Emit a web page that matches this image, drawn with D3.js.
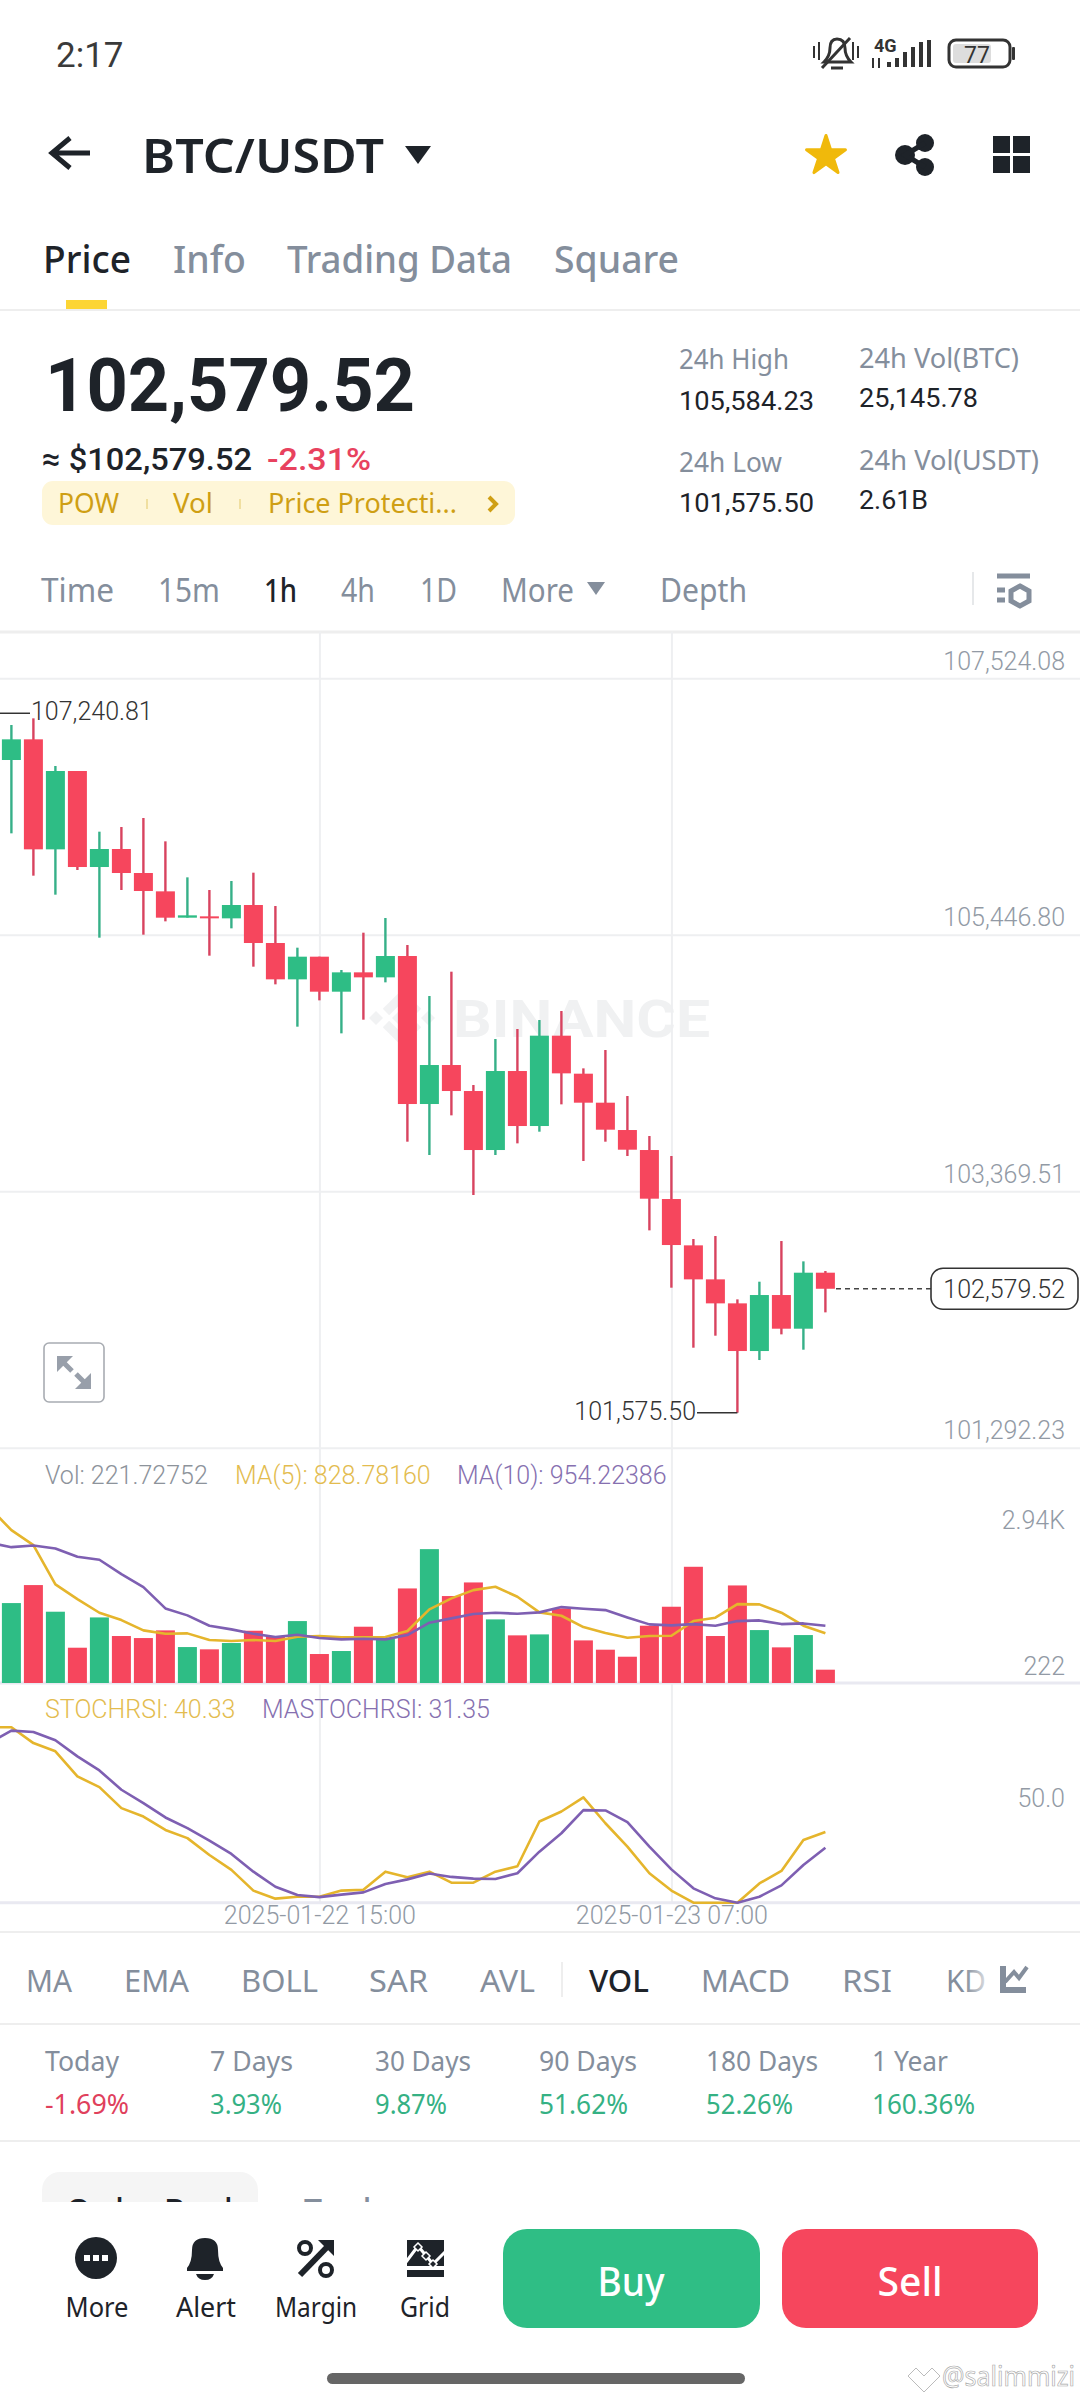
<!DOCTYPE html>
<html>
<head>
<meta charset="utf-8">
<title>BTC/USDT</title>
<script src="https://cdn.jsdelivr.net/npm/d3@7"></script>
<style>
  html, body { margin: 0; padding: 0; background: #fff; }
  svg { display: block; font-family: "Noto Sans", Roboto, sans-serif; }
  .tick text { font-family: Roboto, sans-serif; font-weight: 300; }
  .num { font-family: Roboto, sans-serif; }
</style>
</head>
<body>
<svg id="page" width="1080" height="2400"></svg>
<script>
// candles, oldest first
var opens = [106862.3,107029.7,106138.7,106773.2,105995.6,106141.4,105947,105798.5,105585.2,105596,105579.8,105687.8,105380,105085.7,105269.3,104985.8,105142.4,105101.9,105274.7,104075.9,104391.8,104181.2,103703.3,104343.2,103897.7,104629.4,104321.6,104086.7,103865.3,103703.3,103306.4,102931.1,102655.7,102461.3,102075.2,102528.8,102256.1,102709.7];
var highs = [107145.8,107199.8,106813.7,106773.2,106281.8,106319.6,106392.5,106203.5,105911.9,105809.3,105882.2,105949.7,105679.7,105342.2,105269.3,105161.3,105463.7,105582.5,105363.8,104950.7,105147.8,104229.8,104602.4,104683.4,104756.3,104829.2,104364.8,104513.3,104140.7,103816.7,103654.7,102982.4,103006.7,102493.7,102636.8,102966.2,102801.5,102723.2];
var lows = [106268.3,105925.4,105771.5,105971.3,105423.2,105809.3,105447.5,105555.5,105585.2,105277.4,105498.8,105188.3,105045.2,104702.3,104915.6,104648.3,104759,105061.4,103770.8,103662.8,103984.1,103338.8,103662.8,103757.3,103851.8,104073.2,103614.2,103770.8,103654.7,103052.6,102588.2,102102.2,102199.4,101575.5,102002.3,102210.2,102086,102388.4];
var closes = [107029.7,106138.7,106773.2,105995.6,106141.4,105947,105801.2,105585.2,105604.1,105579.8,105687.8,105380,105085.7,105269.3,104985.8,105142.4,105101.9,105274.7,104075.9,104391.8,104181.2,103703.3,104343.2,103897.7,104629.4,104324.3,104086.7,103868,103706,103309.1,102933.8,102655.7,102461.3,102075.2,102528.8,102256.1,102709.7,102579.52];
var volumes = [1332,1632,1188,588,1093,783,749,877,599,561,666,871,771,1032,483,533,938,744,1576,2231,1449,1676,1060,794,810,1243,710,555,438,955,1271,1937,783,1626,882,594,799,221.73];

// these start one candle before the left edge of the screen
var ma5 = [2925,2547,2298,1643,1399,1171,1049,877,821,827,716,699,716,699,771,783,760,760,766,866,1227,1410,1548,1604,1437,1177,1121,932,833,755,783,788,1032,1088,1315,1310,1171,955,828.78];
var ma10 = [2337,2264,2292,2242,2103,2054,1815,1598,1243,1127,955,894,821,766,805,749,727,738,727,799,1005,1077,1149,1171,1154,1177,1265,1238,1215,1093,977,960,982,955,1032,1043,982,993,954.22];
var stochRsi = [100,100,91,86.3,72,65.9,53.9,49.1,41.5,36.8,27.2,18.7,6.9,2.3,3.4,3.4,6.9,7.4,17.7,14.5,17.7,11.4,11.4,17.7,20.8,46.3,52,60,45.3,32,16.8,6.9,0,0,0,11,18.1,35.8,40.33];
var maStochRsi = [91,98.1,97.3,92.6,83.4,75.4,64.4,56.8,48.6,42.5,35.4,27.8,17.7,9.1,4.4,3.2,4.6,5.9,10.7,13.3,16.6,14.7,13.7,13.5,16.8,29.1,39.6,52.8,52.6,45.9,32,19,8.2,2.5,0,3.4,9.9,21.5,31.35];

var priceTicks = [107524.08,105446.80,103369.51,101292.23];
var dateTicks = [14,30];
var dateLabels = ['2025-01-22 15:00','2025-01-23 07:00'];
var lastPrice = 102579.52;
var maxPrice = 107240.81;
var minPrice = 101575.50;

var tabs = ['Price','Info','Trading Data','Square'];
var intervals = ['Time','15m','1h','4h','1D','More','Depth'];
var indicators = ['MA','EMA','BOLL','SAR','AVL','VOL','MACD','RSI','KD'];
var periods = ['Today','7 Days','30 Days','90 Days','180 Days','1 Year'];
var periodChanges = ['-1.69%','3.93%','9.87%','51.62%','52.26%','160.36%'];
var tools = ['More','Alert','Margin','Grid'];

var GREEN = '#2EBD85', RED = '#F6465D', DARK = '#1E2329', GRAY = '#848E9C', YELLOW = '#E5B52C', PURPLE = '#7E5FB2', GRID = '#EEEFF1';
var CHART_TEXT = 25;

var svg = d3.select('#page');

function label(x, y, str, size, color, opts) {
  opts = opts || {};
  var t = svg.append('text')
    .attr('x', x).attr('y', y)
    .attr('font-size', size)
    .attr('fill', color)
    .attr('font-weight', opts.weight || 400)
    .attr('text-anchor', opts.anchor || 'start')
    .text(str);
  if (opts.cls) t.attr('class', opts.cls);
  if (opts.len) t.attr('textLength', opts.len).attr('lengthAdjust', 'spacingAndGlyphs');
  return t;
}

function hr(y, color, w) {
  svg.append('line').attr('x1', 0).attr('x2', 1080).attr('y1', y).attr('y2', y)
    .attr('stroke', color || GRID).attr('stroke-width', w || 2);
}

// scales
var x = d3.scaleLinear().domain([0, 37]).range([11.4, 825.4]);
var yPrice = d3.scaleLinear().domain([101292.23, 107524.08]).range([1447.7, 678.3]);
var yVol = d3.scaleLinear().domain([0, 2940]).range([1683, 1506.6]);
var yStoch = d3.scaleLinear().domain([0, 100]).range([1902.7, 1727.3]);

/* ---------- status bar ---------- */
label(56, 67, '2:17', 35, '#3A3A3A', {cls: 'num'});
var statusIcons = svg.append('g').attr('fill', 'none').attr('stroke', '#333').attr('stroke-width', 3);
statusIcons.append('path').attr('d', 'M824 62 q6 -6 6 -14 q0 -9 7 -9 q8 0 8 9 q0 8 6 14 z');
statusIcons.append('path').attr('d', 'M822 68 L850 38');
statusIcons.append('path').attr('d', 'M814 46 v12 M819 42 v18 M858 46 v12 M853 42 v18').attr('stroke-width', 2);
statusIcons.append('path').attr('d', 'M831 68 h12').attr('stroke-width', 3);
label(874, 52, '4G', 18, '#333', {weight: 700, cls: 'num'});
[[888,62,5],[896,58,9],[904,52,15],[912,47,20],[920,42,25],[928,40,27]].forEach(function(b) {
  svg.append('rect').attr('x', b[0] - 1).attr('y', b[1]).attr('width', 4).attr('height', b[2]).attr('fill', '#333');
});
svg.append('path').attr('d', 'M873 58 v10 M879 58 v10').attr('stroke', '#333').attr('stroke-width', 2);
svg.append('rect').attr('x', 949).attr('y', 40).attr('width', 61).attr('height', 27).attr('rx', 7).attr('fill', 'none').attr('stroke', '#333').attr('stroke-width', 3);
svg.append('rect').attr('x', 953).attr('y', 44).attr('width', 38).attr('height', 19).attr('rx', 3).attr('fill', '#DDD');
svg.append('rect').attr('x', 1012).attr('y', 47).attr('width', 3).attr('height', 13).attr('rx', 1).attr('fill', '#333');
label(977, 63, '77', 23, '#333', {anchor: 'middle', cls: 'num'});

/* ---------- header ---------- */
svg.append('path').attr('d', 'M90 153 H54 M70 138 L52 153 L70 168').attr('fill', 'none').attr('stroke', DARK).attr('stroke-width', 5);
label(142, 173, 'BTC/USDT', 47, DARK, {weight: 600, len: 242});
svg.append('path').attr('d', 'M405 146 H431 L418 164 Z').attr('fill', DARK);
svg.append('path')
  .attr('d', d3.symbol().type(d3.symbolStar).size(470)())
  .attr('transform', 'translate(826,156)')
  .attr('fill', '#F0B90B').attr('stroke', '#F0B90B').attr('stroke-width', 3).attr('stroke-linejoin', 'round');
var share = svg.append('g').attr('fill', DARK);
share.append('circle').attr('cx', 925).attr('cy', 143).attr('r', 9);
share.append('circle').attr('cx', 905).attr('cy', 155).attr('r', 10);
share.append('circle').attr('cx', 925).attr('cy', 167).attr('r', 9);
share.append('path').attr('d', 'M925 143 L905 155 L925 167').attr('fill', 'none').attr('stroke', DARK).attr('stroke-width', 5);
[[993,136],[1013,136],[993,156],[1013,156]].forEach(function(s) {
  svg.append('rect').attr('x', s[0]).attr('y', s[1]).attr('width', 17).attr('height', 17).attr('fill', DARK);
});

/* ---------- tabs ---------- */
var tabX = [43, 173, 287, 554], tabLen = [88, 73, 225, 125];
tabs.forEach(function(t, i) {
  label(tabX[i], 273, t, 38, i == 0 ? DARK : GRAY, {weight: 500, len: tabLen[i]});
});
svg.append('rect').attr('x', 66).attr('y', 300).attr('width', 41).attr('height', 9).attr('fill', '#FCD535');
hr(310, '#EEEEEE', 2);

/* ---------- ticker ---------- */
label(45, 411, d3.format(',.2f')(lastPrice), 74, DARK, {weight: 700, cls: 'num', len: 370});
label(42, 470, '≈ $102,579.52', 32, DARK, {weight: 500, cls: 'num', len: 210});
label(267, 470, '-2.31%', 32, '#E8425E', {weight: 500, cls: 'num', len: 104});
svg.append('rect').attr('x', 42).attr('y', 481).attr('width', 473).attr('height', 44).attr('rx', 11).attr('fill', '#FEF6D8');
label(58, 513, 'POW', 28, '#CF9F14', {len: 61});
label(173, 513, 'Vol', 28, '#CF9F14', {len: 40});
label(268, 513, 'Price Protecti...', 28, '#CF9F14', {len: 189});
svg.append('path').attr('d', 'M147 499 v10 M240 499 v10').attr('stroke', '#F0DFA0').attr('stroke-width', 2);
svg.append('path').attr('d', 'M489 497 L496 504 L489 511').attr('fill', 'none').attr('stroke', '#CF9F14').attr('stroke-width', 4);

label(679, 369, '24h High', 28, GRAY, {len: 110});
label(679, 410, '105,584.23', 26, DARK, {cls: 'num', len: 135});
label(679, 472, '24h Low', 28, GRAY, {len: 103});
label(679, 512, '101,575.50', 26, DARK, {cls: 'num', len: 135});
label(859, 368, '24h Vol(BTC)', 28, GRAY, {len: 160});
label(859, 407, '25,145.78', 26, DARK, {cls: 'num', len: 119});
label(859, 470, '24h Vol(USDT)', 28, GRAY, {len: 180});
label(859, 509, '2.61B', 26, DARK, {cls: 'num', len: 69});

/* ---------- interval row ---------- */
var intervalX = [41, 158, 264, 341, 420, 501, 660];
var intervalLen = [73, 62, 33, 34, 37, 73, 87];
intervals.forEach(function(t, i) {
  label(intervalX[i], 602, t, 32, i == 2 ? DARK : GRAY, {weight: i == 2 ? 500 : 400, len: intervalLen[i]});
});
svg.append('path').attr('d', 'M587 582 H605 L596 595 Z').attr('fill', GRAY);
svg.append('line').attr('x1', 973).attr('x2', 973).attr('y1', 572).attr('y2', 605).attr('stroke', '#E6E8EA').attr('stroke-width', 2);
svg.append('path').attr('d', 'M997 576 H1030 M997 590 h8 M997 600 h8').attr('stroke', GRAY).attr('stroke-width', 5);
svg.append('path').attr('d', 'M1020 586 L1029 591 V601 L1020 606 L1011 601 V591 Z').attr('fill', 'none').attr('stroke', GRAY).attr('stroke-width', 5);
hr(632, '#EEEEEE', 3);

/* ---------- watermark, under the candles ---------- */
var wm = svg.append('g').attr('fill', '#F1F2F3');
[[402,1018,10],[376,1018,7],[428,1018,7]].forEach(function(d) {
  wm.append('path').attr('d', 'M0 ' + (-d[2]) + ' L' + d[2] + ' 0 L0 ' + d[2] + ' L' + (-d[2]) + ' 0 Z')
    .attr('transform', 'translate(' + d[0] + ',' + d[1] + ')');
});
wm.append('path').attr('d', 'M386 1012 L402 996 L418 1012 M386 1024 L402 1040 L418 1024')
  .attr('fill', 'none').attr('stroke', '#F1F2F3').attr('stroke-width', 9);
label(453, 1037, 'BINANCE', 52, '#F0F1F2', {weight: 700, cls: 'num', len: 257});

/* ---------- axes and grid ---------- */
var priceAxis = d3.axisRight(yPrice).tickValues(priceTicks).tickSize(1080).tickFormat(d3.format(',.2f'));
var gPrice = svg.append('g').attr('class', 'axis price').call(priceAxis);
gPrice.select('.domain').remove();
gPrice.selectAll('line').attr('stroke', GRID).attr('stroke-width', 2);
gPrice.selectAll('text').attr('x', 1065).attr('dy', -9).attr('text-anchor', 'end')
  .attr('font-size', CHART_TEXT).attr('fill', '#929AA5').attr('dominant-baseline', 'auto');

var dateAxis = d3.axisBottom(x).tickValues(dateTicks).tickSize(-1271)
  .tickFormat(function(d) { return dateLabels[dateTicks.indexOf(d)]; });
var gDate = svg.append('g').attr('class', 'axis dates').attr('transform', 'translate(0,1902.7)').call(dateAxis);
gDate.select('.domain').remove();
gDate.selectAll('line').attr('stroke', GRID).attr('stroke-width', 2);
gDate.selectAll('text').attr('font-size', CHART_TEXT).attr('fill', '#929AA5').attr('y', 21).attr('dy', 0);

hr(1683, '#E9E9F1', 3);
hr(1902.7, '#E9E9F1', 3);

/* ---------- candles ---------- */
var idx = d3.range(closes.length);
var candles = svg.append('g').selectAll('g').data(idx).enter().append('g');
candles.append('line')
  .attr('x1', function(i) { return x(i); })
  .attr('x2', function(i) { return x(i); })
  .attr('y1', function(i) { return yPrice(highs[i]); })
  .attr('y2', function(i) { return yPrice(lows[i]); })
  .attr('stroke-width', 2.4)
  .attr('stroke', function(i) { return closes[i] >= opens[i] ? '#36B088' : '#D8435F'; });
candles.append('rect')
  .attr('x', function(i) { return x(i) - 9.5; })
  .attr('width', 19)
  .attr('y', function(i) { return yPrice(Math.max(opens[i], closes[i])); })
  .attr('height', function(i) { return Math.max(2, Math.abs(yPrice(opens[i]) - yPrice(closes[i]))); })
  .attr('fill', function(i) { return closes[i] >= opens[i] ? GREEN : RED; });

/* high / low / last markers */
var hiY = yPrice(maxPrice), loY = yPrice(minPrice), lastY = yPrice(lastPrice);
svg.append('line').attr('x1', 0).attr('x2', 30).attr('y1', hiY).attr('y2', hiY).attr('stroke', '#333').attr('stroke-width', 1.5);
label(31, hiY + 7, d3.format(',.2f')(maxPrice), CHART_TEXT, '#333', {cls: 'num'}).attr('font-weight', 300);
svg.append('line').attr('x1', 697).attr('x2', x(33)).attr('y1', loY).attr('y2', loY).attr('stroke', '#333').attr('stroke-width', 1.5);
label(696, loY + 7, d3.format(',.2f')(minPrice), CHART_TEXT, '#333', {cls: 'num', anchor: 'end'}).attr('font-weight', 300);
svg.append('line').attr('x1', 836).attr('x2', 931).attr('y1', lastY).attr('y2', lastY)
  .attr('stroke', '#444').attr('stroke-width', 1.5).attr('stroke-dasharray', '5 4');
svg.append('rect').attr('x', 931).attr('y', lastY - 20.5).attr('width', 147).attr('height', 41).attr('rx', 12)
  .attr('fill', '#fff').attr('stroke', '#333').attr('stroke-width', 1.6);
label(1065, lastY + 9, d3.format(',.2f')(lastPrice), CHART_TEXT, '#333', {cls: 'num', anchor: 'end'}).attr('font-weight', 300);

/* expand button */
svg.append('rect').attr('x', 44).attr('y', 1343).attr('width', 60).attr('height', 59).attr('rx', 5)
  .attr('fill', '#fff').attr('stroke', '#A8ACB2').attr('stroke-width', 1.6);
svg.append('path').attr('d', 'M57 1356 H73 L57 1372 Z M91 1389 H75 L91 1373 Z').attr('fill', '#989FAA');
svg.append('path').attr('d', 'M64 1363 L72 1371 M84 1382 L76 1374').attr('stroke', '#989FAA').attr('stroke-width', 5);

/* ---------- volume ---------- */
svg.append('g').selectAll('rect').data(idx).enter().append('rect')
  .attr('x', function(i) { return x(i) - 9.5; })
  .attr('width', 19)
  .attr('y', function(i) { return yVol(volumes[i]); })
  .attr('height', function(i) { return yVol(0) - yVol(volumes[i]); })
  .attr('fill', function(i) { return closes[i] >= opens[i] ? GREEN : RED; });

// index -1 is the candle just off screen
function seriesLine(values, yScale, color) {
  var line = d3.line()
    .x(function(d, i) { return x(i - 1); })
    .y(function(d) { return yScale(d); });
  svg.append('path').datum(values).attr('d', line)
    .attr('fill', 'none').attr('stroke', color).attr('stroke-width', 2.6).attr('stroke-linejoin', 'round');
}
seriesLine(ma5, yVol, YELLOW);
seriesLine(ma10, yVol, PURPLE);

label(45, 1484, 'Vol: 221.72752', CHART_TEXT, '#8D939B', {cls: 'num'}).attr('font-weight', 300);
label(235, 1484, 'MA(5): 828.78160', CHART_TEXT, '#E3BC4F', {cls: 'num'}).attr('font-weight', 300);
label(457, 1484, 'MA(10): 954.22386', CHART_TEXT, '#8670B0', {cls: 'num'}).attr('font-weight', 300);
label(1065, 1529, '2.94K', CHART_TEXT, '#929AA5', {cls: 'num', anchor: 'end'}).attr('font-weight', 300);
label(1065, 1675, '222', CHART_TEXT, '#929AA5', {cls: 'num', anchor: 'end'}).attr('font-weight', 300);

/* ---------- stoch rsi ---------- */
seriesLine(stochRsi, yStoch, YELLOW);
seriesLine(maStochRsi, yStoch, PURPLE);
label(45, 1718, 'STOCHRSI: 40.33', CHART_TEXT, '#E3BC4F', {cls: 'num'}).attr('font-weight', 300);
label(262, 1718, 'MASTOCHRSI: 31.35', CHART_TEXT, '#8670B0', {cls: 'num'}).attr('font-weight', 300);
label(1065, 1807, '50.0', CHART_TEXT, '#929AA5', {cls: 'num', anchor: 'end'}).attr('font-weight', 300);

/* ---------- indicator row ---------- */
hr(1932, '#EEEEEE', 2);
var indicatorX = [26, 124, 241, 369, 480, 589, 701, 842, 946];
var indicatorLen = [46, 65, 77, 59, 55, 60, 89, 50, 40];
indicators.forEach(function(t, i) {
  label(indicatorX[i], 1992, t, 31, i == 5 ? DARK : GRAY, {weight: i == 5 ? 500 : 400, len: indicatorLen[i]});
});
var fade = svg.append('defs').append('linearGradient').attr('id', 'fade');
fade.append('stop').attr('offset', '0').attr('stop-color', '#fff').attr('stop-opacity', 0);
fade.append('stop').attr('offset', '1').attr('stop-color', '#fff').attr('stop-opacity', 1);
svg.append('rect').attr('x', 965).attr('y', 1960).attr('width', 30).attr('height', 40).attr('fill', 'url(#fade)');
svg.append('line').attr('x1', 562).attr('x2', 562).attr('y1', 1962).attr('y2', 1997).attr('stroke', '#EEEEEE').attr('stroke-width', 2);
svg.append('path').attr('d', 'M1003 1966 V1990 H1026').attr('fill', 'none').attr('stroke', GRAY).attr('stroke-width', 6);
svg.append('path').attr('d', 'M1005 1982 L1014 1972 L1019 1978 L1027 1967').attr('fill', 'none').attr('stroke', GRAY).attr('stroke-width', 4);
hr(2024, '#EEEEEE', 2);

/* ---------- period changes ---------- */
var periodX = [45, 210, 375, 539, 706, 872];
var periodLen = [74, 83, 96, 98, 112, 76];
var changeLen = [84, 72, 72, 89, 87, 103];
periods.forEach(function(t, i) {
  label(periodX[i], 2071, t, 28, GRAY, {len: periodLen[i]});
  label(periodX[i], 2114, periodChanges[i], 28, periodChanges[i][0] == '-' ? '#E0405C' : '#35B184', {len: changeLen[i]});
});
hr(2141, '#EEEEEE', 2);

/* ---------- order book tabs, cut off by the bottom bar ---------- */
svg.append('clipPath').attr('id', 'cut').append('rect').attr('x', 0).attr('y', 2160).attr('width', 1080).attr('height', 42);
var cut = svg.append('g').attr('clip-path', 'url(#cut)');
cut.append('rect').attr('x', 42).attr('y', 2172).attr('width', 216).attr('height', 70).attr('rx', 18).attr('fill', '#F5F5F5');
cut.append('text').attr('x', 66).attr('y', 2222).attr('font-size', 32).attr('font-weight', 500).attr('fill', DARK).text('Order Book');
cut.append('text').attr('x', 304).attr('y', 2222).attr('font-size', 32).attr('font-weight', 500).attr('fill', GRAY).text('Trades');

/* ---------- bottom bar ---------- */
var toolX = [97, 206, 316, 425], toolLen = [63, 60, 82, 50];
tools.forEach(function(t, i) {
  label(toolX[i], 2317, t, 27, DARK, {anchor: 'middle', len: toolLen[i]});
});
svg.append('circle').attr('cx', 96).attr('cy', 2258).attr('r', 21).attr('fill', DARK);
[84, 93, 102].forEach(function(cx) {
  svg.append('rect').attr('x', cx).attr('y', 2255).attr('width', 6).attr('height', 6).attr('fill', '#fff');
});
svg.append('path').attr('d', 'M187 2268 Q192 2262 192 2250 Q192 2238 205 2238 Q218 2238 218 2250 Q218 2262 223 2268 V2271 H187 Z').attr('fill', DARK);
svg.append('path').attr('d', 'M196 2274 H214 Q212 2280 205 2280 Q198 2280 196 2274 Z').attr('fill', DARK);
svg.append('path').attr('d', 'M300 2275 L332 2242').attr('stroke', DARK).attr('stroke-width', 6);
svg.append('path').attr('d', 'M318 2240 H334 V2256 Z').attr('fill', DARK);
svg.append('circle').attr('cx', 305).attr('cy', 2248).attr('r', 6).attr('fill', 'none').attr('stroke', DARK).attr('stroke-width', 4);
svg.append('circle').attr('cx', 326).attr('cy', 2270).attr('r', 6).attr('fill', 'none').attr('stroke', DARK).attr('stroke-width', 4);
svg.append('rect').attr('x', 407).attr('y', 2240).attr('width', 37).attr('height', 26).attr('fill', DARK);
svg.append('path').attr('d', 'M406 2262 L418 2246 L433 2264 L445 2252').attr('fill', 'none').attr('stroke', '#fff').attr('stroke-width', 3);
[[418,2247],[426,2256],[433,2264]].forEach(function(d) {
  svg.append('path').attr('d', 'M0 -4 L4 0 L0 4 L-4 0 Z').attr('transform', 'translate(' + d[0] + ',' + d[1] + ')').attr('fill', DARK).attr('stroke', '#fff').attr('stroke-width', 1.5);
});
svg.append('rect').attr('x', 407).attr('y', 2270).attr('width', 37).attr('height', 7).attr('fill', DARK);

svg.append('rect').attr('x', 503).attr('y', 2229).attr('width', 257).attr('height', 99).attr('rx', 24).attr('fill', '#2FBE85');
svg.append('rect').attr('x', 782).attr('y', 2229).attr('width', 256).attr('height', 99).attr('rx', 24).attr('fill', '#F6465D');
label(631, 2296, 'Buy', 40, '#fff', {anchor: 'middle', weight: 500, len: 67});
label(910, 2296, 'Sell', 40, '#fff', {anchor: 'middle', weight: 500, len: 65});

svg.append('rect').attr('x', 327).attr('y', 2373).attr('width', 418).attr('height', 11).attr('rx', 5.5).attr('fill', '#666');

/* photo watermark */
svg.append('path').attr('d', 'M908 2376 L924 2392 L940 2376 L932 2368 L924 2376 L916 2368 Z').attr('fill', 'none').attr('stroke', '#BBB').attr('stroke-width', 1);
label(942, 2386, '@salimmizi', 27, '#fff', {len: 133}).attr('stroke', '#AAA').attr('stroke-width', 0.7);
</script>
</body>
</html>
